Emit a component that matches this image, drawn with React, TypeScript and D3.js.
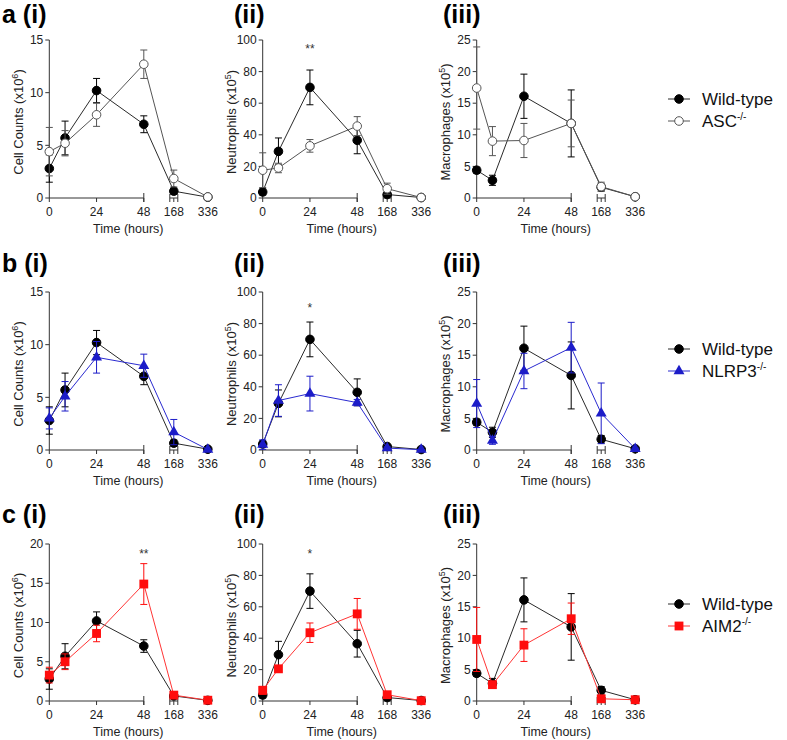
import React from "react";
import * as d3 from "d3";

// ---------- DATA ----------
const hours = [0, 8, 24, 48, 168, 336];
const xTickValues = [0, 24, 48, 168, 336];

// Wild-type
const wtCells = [2.8, 5.7, 10.2, 7.0, 0.65, 0.08];
const wtCellsErr = [1.3, 1.6, 1.15, 0.8, 0.3, 0.05];
const wtNeut = [3.8, 29.5, 70.0, 36.5, 2.2, 0.3];
const wtNeutErr = [2.0, 8.5, 11.0, 8.5, 1.0, 0.2];
const wtMac = [4.4, 2.8, 16.1, 11.8, 1.7, 0.2];
const wtMacErr = [0.5, 0.8, 3.5, 5.3, 0.6, 0.1];

// ASC-/-
const ascCells = [4.4, 5.2, 7.9, 12.7, 1.85, 0.1];
const ascCellsErr = [2.3, 1.2, 1.1, 1.35, 0.8, 0.05];
const ascNeut = [17.6, 19.0, 33.0, 45.5, 5.9, 0.3];
const ascNeutErr = [11.0, 3.0, 4.0, 6.0, 3.5, 0.2];
const ascMac = [17.4, 9.0, 9.1, 11.8, 1.8, 0.2];
const ascMacErr = [6.5, 2.3, 2.7, 3.7, 0.7, 0.1];

// NLRP3-/-
const nlrCells = [3.0, 5.1, 8.8, 8.0, 1.7, 0.05];
const nlrCellsErr = [1.0, 1.4, 1.5, 1.1, 1.2, 0.05];
const nlrNeut = [3.4, 31.3, 35.7, 30.0, 1.2, 0.2];
const nlrNeutErr = [3.0, 10.0, 11.0, 2.0, 0.8, 0.1];
const nlrMac = [7.35, 1.5, 12.5, 16.2, 5.8, 0.2];
const nlrMacErr = [3.8, 0.6, 2.8, 4.0, 4.8, 0.1];

// AIM2-/-
const aimCells = [3.3, 5.0, 8.6, 14.9, 0.75, 0.1];
const aimCellsErr = [1.0, 1.0, 1.05, 2.6, 0.3, 0.05];
const aimNeut = [6.8, 20.5, 43.5, 55.5, 4.0, 0.2];
const aimNeutErr = [2.5, 1.5, 6.2, 9.8, 2.0, 0.1];
const aimMac = [9.8, 2.6, 8.9, 13.1, 0.35, 0.2];
const aimMacErr = [5.1, 0.5, 2.6, 2.5, 0.2, 0.1];

const rowLetters = ["a", "b", "c"];
const panelNumerals = ["(i)", "(ii)", "(iii)"];
const legendLabels = ["ASC", "NLRP3", "AIM2"];

// ---------- STYLE / LAYOUT ----------
const FONT = "'Liberation Sans', Arial, Helvetica, sans-serif";
const colOrigins = [49.3, 262.7, 476.7];
const rowTops = [40, 292, 544];
const rowBottoms = [198, 450, 701];
const rowLabelBaselines = [23, 272, 523];
const legendCenters = [99, 349, 604];

type Kind = "wt" | "asc" | "nlr" | "aim";
const styles: Record<Kind, { line: string; fill: string; stroke: string }> = {
  wt: { line: "#2a2a2a", fill: "#000", stroke: "#000" },
  asc: { line: "#555", fill: "#fff", stroke: "#555" },
  nlr: { line: "#2a2ad0", fill: "#1c1cc8", stroke: "#1c1cc8" },
  aim: { line: "#ff3535", fill: "#ff0d0d", stroke: "#ff0d0d" },
};

function Marker({ kind, x, y }: { kind: Kind; x: number; y: number }) {
  const s = styles[kind];
  if (kind === "wt" || kind === "asc") {
    return <circle cx={x} cy={y} r={4.3} fill={s.fill} stroke={s.stroke} strokeWidth={1} />;
  }
  const sym = kind === "nlr" ? d3.symbol(d3.symbolTriangle, 52)() : d3.symbol(d3.symbolSquare, 78)();
  return <path d={sym || ""} transform={`translate(${x},${y})`} fill={s.fill} />;
}

type Series = { kind: Kind; mean: number[]; err: number[] };

function Panel({
  ox, top, bottom, yMax, yStep, title, sup, series, star,
}: {
  ox: number; top: number; bottom: number; yMax: number; yStep: number;
  title: string; sup: string; series: Series[]; star?: { t: number; v: number; text: string };
}) {
  const x = d3.scaleLinear().domain([0, 48, 168, 336]).range([ox, ox + 94.5, ox + 124.5, ox + 158.5]);
  const y = d3.scaleLinear().domain([0, yMax]).range([bottom, top]);
  const yTicks = d3.range(0, yMax + 0.001, yStep);
  const line = d3.line<number>().x((_, i) => x(hours[i])).y((d) => y(d));
  const axisColor = "#333";
  const x48 = x(48), x168 = x(168);
  return (
    <g fontFamily={FONT}>
      <line x1={ox} x2={ox} y1={top} y2={bottom} stroke={axisColor} strokeWidth={1} />
      {yTicks.map((t) => (
        <g key={t}>
          <line x1={ox - 4} x2={ox} y1={y(t)} y2={y(t)} stroke={axisColor} />
          <text x={ox - 6} y={y(t)} dy="0.35em" textAnchor="end" fontSize={12} fill="#222">{t}</text>
        </g>
      ))}
      <line x1={ox} x2={x48} y1={bottom} y2={bottom} stroke={axisColor} />
      <line x1={x48} x2={x48} y1={bottom - 5} y2={bottom + 4} stroke={axisColor} />
      <line x1={x168 - 4} x2={x168 + 4} y1={bottom} y2={bottom} stroke={axisColor} />
      <line x1={x168 - 4} x2={x168 - 4} y1={bottom - 4} y2={bottom + 4} stroke={axisColor} />
      <line x1={x168 + 4} x2={x168 + 4} y1={bottom - 4} y2={bottom + 4} stroke={axisColor} />
      {xTickValues.map((t) => (
        <g key={t}>
          <line x1={x(t)} x2={x(t)} y1={bottom} y2={bottom + 4} stroke={axisColor} />
          <text x={x(t)} y={bottom + 18} textAnchor="middle" fontSize={12} fill="#222">{t}</text>
        </g>
      ))}
      <text x={ox + 79} y={bottom + 35} textAnchor="middle" fontSize={12.5} fill="#222">Time (hours)</text>
      <text transform={`translate(${ox - 31},${(top + bottom) / 2 + 3}) rotate(-90)`} textAnchor="middle" fontSize={13} fill="#222" dy="0.35em">
        {title} (x10<tspan dy={-5} fontSize={9}>{sup}</tspan><tspan dy={5}>)</tspan>
      </text>
      {series.map((s, si) => {
        const st = styles[s.kind];
        return (
          <g key={si}>
            <path d={line(s.mean) || ""} fill="none" stroke={st.line} strokeWidth={1} />
            {s.mean.map((m, i) => {
              const cx = x(hours[i]);
              const hi = y(m + s.err[i]);
              const lo = y(Math.max(0, m - s.err[i]));
              return (
                <g key={i} stroke={st.stroke} strokeWidth={1}>
                  <line x1={cx} x2={cx} y1={hi} y2={lo} />
                  <line x1={cx - 3.5} x2={cx + 3.5} y1={hi} y2={hi} />
                  <line x1={cx - 3.5} x2={cx + 3.5} y1={lo} y2={lo} />
                </g>
              );
            })}
            {s.mean.map((m, i) => (
              <Marker key={"m" + i} kind={s.kind} x={x(hours[i])} y={y(m)} />
            ))}
          </g>
        );
      })}
      {star && (
        <text x={x(star.t)} y={y(star.v) + 7} textAnchor="middle" fontSize={12} fill="#333">{star.text}</text>
      )}
    </g>
  );
}

const rows: { ko: Kind; cells: number[]; cellsErr: number[]; neut: number[]; neutErr: number[]; mac: number[]; macErr: number[]; cellMax: number }[] = [
  { ko: "asc", cells: ascCells, cellsErr: ascCellsErr, neut: ascNeut, neutErr: ascNeutErr, mac: ascMac, macErr: ascMacErr, cellMax: 15 },
  { ko: "nlr", cells: nlrCells, cellsErr: nlrCellsErr, neut: nlrNeut, neutErr: nlrNeutErr, mac: nlrMac, macErr: nlrMacErr, cellMax: 15 },
  { ko: "aim", cells: aimCells, cellsErr: aimCellsErr, neut: aimNeut, neutErr: aimNeutErr, mac: aimMac, macErr: aimMacErr, cellMax: 20 },
];

const stars: (({ t: number; v: number; text: string }) | undefined)[][] = [
  [undefined, { t: 24, v: 96, text: "**" }, undefined],
  [undefined, { t: 24, v: 92, text: "*" }, undefined],
  [{ t: 48, v: 19.1, text: "**" }, { t: 24, v: 95.5, text: "*" }, undefined],
];

export default function App() {
  return (
    <svg width={787} height={740} style={{ position: "absolute", left: 0, top: 0, background: "#fff" }}>
      <rect width={787} height={740} fill="#fff" />
      {rows.map((r, ri) => {
        const top = rowTops[ri], bottom = rowBottoms[ri];
        return (
          <g key={ri}>
            <Panel ox={colOrigins[0]} top={top} bottom={bottom} yMax={r.cellMax} yStep={5} title="Cell Counts" sup="6"
              series={[{ kind: "wt", mean: wtCells, err: wtCellsErr }, { kind: r.ko, mean: r.cells, err: r.cellsErr }]} star={stars[ri][0]} />
            <Panel ox={colOrigins[1]} top={top} bottom={bottom} yMax={100} yStep={20} title="Neutrophils" sup="5"
              series={[{ kind: "wt", mean: wtNeut, err: wtNeutErr }, { kind: r.ko, mean: r.neut, err: r.neutErr }]} star={stars[ri][1]} />
            <Panel ox={colOrigins[2]} top={top} bottom={bottom} yMax={25} yStep={5} title="Macrophages" sup="5"
              series={[{ kind: "wt", mean: wtMac, err: wtMacErr }, { kind: r.ko, mean: r.mac, err: r.macErr }]} star={stars[ri][2]} />
            <text x={2} y={rowLabelBaselines[ri]} fontFamily={FONT} fontWeight="bold" fontSize={25} fill="#000">{rowLetters[ri]} {panelNumerals[0]}</text>
            <text x={234} y={rowLabelBaselines[ri]} fontFamily={FONT} fontWeight="bold" fontSize={25} fill="#000">{panelNumerals[1]}</text>
            <text x={443} y={rowLabelBaselines[ri]} fontFamily={FONT} fontWeight="bold" fontSize={25} fill="#000">{panelNumerals[2]}</text>
            {[{ kind: "wt" as Kind, label: "Wild-type", sup: "" }, { kind: r.ko, label: legendLabels[ri], sup: "-/-" }].map((it, li) => {
              const cy = legendCenters[ri] + li * 22;
              return (
                <g key={li}>
                  <line x1={668} x2={690} y1={cy} y2={cy} stroke={styles[it.kind].line} strokeWidth={1} />
                  <Marker kind={it.kind} x={679} y={cy} />
                  <text x={702} y={cy} dy="0.35em" fontFamily={FONT} fontSize={17} fill="#111">
                    {it.label}
                    {it.sup && <tspan dy={-7} fontSize={10}>{it.sup}</tspan>}
                  </text>
                </g>
              );
            })}
          </g>
        );
      })}
    </svg>
  );
}
